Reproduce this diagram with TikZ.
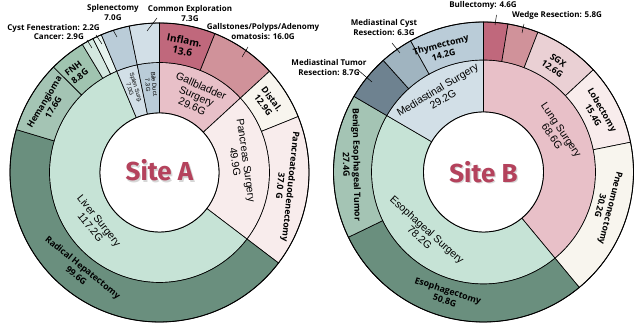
\documentclass[tikz,border=0pt]{standalone}
\usepackage{xcolor}
\usepackage{fontspec}
\setmainfont{Liberation Sans}
\newfontfamily\boldlabfont{Open Sans}
\newfontfamily\sitefont{Fira Sans}
\usepackage{tikz}
\usetikzlibrary{calc}
\definecolor{roseDark}{RGB}{192,104,124}
\definecolor{roseMid}{RGB}{208,146,154}
\definecolor{roseIn}{RGB}{232,192,200}
\definecolor{roseLight}{RGB}{234,208,212}
\definecolor{roseWhite}{RGB}{248,236,236}
\definecolor{creamWhite}{RGB}{248,245,238}
\definecolor{mintIn}{RGB}{198,227,214}
\definecolor{greenDark}{RGB}{106,143,126}
\definecolor{greenMid}{RGB}{164,196,180}
\definecolor{greenFnh}{RGB}{160,196,176}
\definecolor{greenPale}{RGB}{212,232,224}
\definecolor{greenPaler}{RGB}{230,243,239}
\definecolor{blueMid}{RGB}{186,204,216}
\definecolor{blueLight}{RGB}{210,223,231}
\definecolor{blueGrey}{RGB}{160,180,192}
\definecolor{blueDark}{RGB}{110,130,144}
\definecolor{sitecolor}{RGB}{180,66,92}
\newcommand{\ringseg}[6]{%
  \draw[segline, fill=#6] ([shift={(#4:#2pt)}]#1) -- ([shift={(#4:#3pt)}]#1)
    arc[start angle=#4, end angle=#5, radius=#3pt]
    -- ([shift={(#5:#2pt)}]#1) arc[start angle=#5, end angle=#4, radius=#2pt]
    -- cycle;}
\tikzset{
  segline/.style={draw=black, line width=0.65pt},
  rimline/.style={draw=black, line width=0.9pt},
  inlab/.style={font=\fontsize{10.5}{11}\selectfont, align=center, inner sep=0pt},
  smalllab/.style={font=\fontsize{6}{6.5}\selectfont, align=center, inner sep=0pt},
  outlab/.style={font=\boldlabfont\bfseries\fontsize{8.8}{10.5}\selectfont,
                 align=center, inner sep=0pt},
  calllab/.style={font=\boldlabfont\bfseries\fontsize{8}{10}\selectfont,
                  align=center, inner sep=0pt},
  leader/.style={draw=black, line width=0.5pt},
  sitelab/.style={font=\sitefont\bfseries\fontsize{26}{26}\selectfont,
                  text=sitecolor, inner sep=0pt},
  siteglow/.style={font=\sitefont\bfseries\fontsize{26}{26}\selectfont,
                   text=black!45, opacity=0.35, inner sep=0pt},
}

\begin{document}
\begin{tikzpicture}[x=1pt, y=1pt]

  \useasboundingbox (0,0) rectangle (641,326);
  \coordinate (cA) at (159.5,153.5);
  \coordinate (cB) at (483.5,154);

  % --- Site A: inner ring ---
  \ringseg{cA}{59.5}{110}{90}{42.62}{roseIn}
  \ringseg{cA}{59.5}{110}{42.62}{-37.26}{roseWhite}
  \ringseg{cA}{59.5}{110}{-37.26}{-247.11}{mintIn}
  \ringseg{cA}{59.5}{110}{-247.11}{-258.31}{blueLight}
  \ringseg{cA}{59.5}{110}{-258.31}{-270}{blueMid}

  % --- Site A: outer ring ---
  \ringseg{cA}{110}{149.5}{90}{68.23}{roseDark}
  \ringseg{cA}{110}{149.5}{68.23}{42.62}{roseMid}
  \ringseg{cA}{110}{149.5}{42.62}{21.97}{creamWhite}
  \ringseg{cA}{110}{149.5}{21.97}{-37.26}{roseWhite}
  \ringseg{cA}{110}{149.5}{-37.26}{-196.69}{greenDark}
  \ringseg{cA}{110}{149.5}{-196.69}{-224.86}{greenMid}
  \ringseg{cA}{110}{149.5}{-224.86}{-238.95}{greenFnh}
  \ringseg{cA}{110}{149.5}{-238.95}{-243.59}{greenPale}
  \ringseg{cA}{110}{149.5}{-243.59}{-247.11}{greenPaler}
  \ringseg{cA}{110}{149.5}{-247.11}{-258.31}{blueMid}
  \ringseg{cA}{110}{149.5}{-258.31}{-270}{blueLight}
  \draw[rimline, fill=white] (cA) circle[radius=59.5pt];
  \draw[rimline] (cA) circle[radius=149.5pt];

  % --- Site B: inner ring ---
  \ringseg{cB}{60}{112}{90}{-50.32}{roseIn}
  \ringseg{cB}{60}{112}{-50.32}{-210.27}{mintIn}
  \ringseg{cB}{60}{112}{-210.27}{-270}{blueLight}

  % --- Site B: outer ring ---
  \ringseg{cB}{112}{150}{90}{80.59}{roseDark}
  \ringseg{cB}{112}{150}{80.59}{68.73}{roseMid}
  \ringseg{cB}{112}{150}{68.73}{42.95}{roseLight}
  \ringseg{cB}{112}{150}{42.95}{11.45}{roseWhite}
  \ringseg{cB}{112}{150}{11.45}{-50.32}{creamWhite}
  \ringseg{cB}{112}{150}{-50.32}{-154.23}{greenDark}
  \ringseg{cB}{112}{150}{-154.23}{-210.27}{greenMid}
  \ringseg{cB}{112}{150}{-210.27}{-228.07}{blueDark}
  \ringseg{cB}{112}{150}{-228.07}{-240.95}{blueGrey}
  \ringseg{cB}{112}{150}{-240.95}{-270}{blueMid}
  \draw[rimline, fill=white] (cB) circle[radius=60pt];
  \draw[rimline] (cB) circle[radius=150pt];

  % --- Centre titles ---
  \node[siteglow] (glowA) at ($(cA)+(1.3,0.7)$) {Site A};
  \node[siteglow] (glowB) at ($(cB)+(1.3,-1.3)$) {Site B};
  \node[sitelab] (siteA) at ($(cA)+(0,2)$) {Site A};
  \node[sitelab] (siteB) at (cB) {Site B};

  % --- Site A: labels inside ---
  \node[inlab, rotate=-24] (gallL) at ([shift={(64:85pt)}]cA)
    {Gallbladder\\Surgery\\29.6G};
  \node[inlab, rotate=-82] (pancL) at ([shift={(8:82pt)}]cA)
    {Pancreas Surgery\\49.9G};
  \node[inlab, rotate=-51] (liverL) at ([shift={(218.6:82.5pt)}]cA)
    {Liver Surgery\\117.2G};
  \node[smalllab, rotate=-73] (splenL) at ([shift={(107.4:88pt)}]cA)
    {Splen Surg.\\7.0G};
  \node[smalllab, rotate=-84] (bileL) at ([shift={(95.5:88pt)}]cA)
    {Bile Duct.\\7.3G};
  \node[outlab, font=\boldlabfont\bfseries\fontsize{10}{11}\selectfont,
        rotate=-11] (inflamL) at ([shift={(79.3:129pt)}]cA) {Inflam.\\13.6};
  \node[outlab, rotate=-53] (distalL) at ([shift={(33:129pt)}]cA)
    {Distal.\\12.9G};
  \node[outlab, rotate=-96] (pdL) at ([shift={(-6.2:127pt)}]cA)
    {Pancreatoduodenectomy\\37.0 G};
  \node[outlab, rotate=-39] (radL) at ([shift={(-128.9:127pt)}]cA)
    {Radical Hepatectomy\\99.6G};
  \node[outlab, rotate=59] (hemL) at ([shift={(148.5:130pt)}]cA)
    {Hemangioma\\17.6G};
  \node[outlab, rotate=38] (fnhL) at ([shift={(129.6:130pt)}]cA)
    {FNH\\8.8G};

  % --- Site A: labels outside ---
  \node[calllab] (splenT) at (113,313) {Splenectomy\\7.0G};
  \node[calllab] (commonT) at (190,312.5) {Common Exploration\\7.3G};
  \node[calllab] (gallstT) at (263,294) {Gallstones/Polyps/Adenomy\\omatosis: 16.0G};
  \node[calllab, anchor=east] (cystT) at (100,298) {Cyst Fenestration: 2.2G};
  \node[calllab, anchor=east] (cancerT) at (84,289) {Cancer: 2.9G};

  \coordinate (cancerP) at (92,278);  \coordinate (cancerQ) at (87,286);
  \coordinate (cystP) at (102,282);   \coordinate (cystQ) at (96,291);
  \coordinate (splenP) at (117,289);  \coordinate (splenQ) at (113,296);
  \coordinate (commonP) at (147,295); \coordinate (commonQ) at (157,308);
  \coordinate (gallstP) at (242,269); \coordinate (gallstQ) at (248,279);
  \draw[leader] (cancerP) -- (cancerQ);
  \draw[leader] (cystP) -- (cystQ);
  \draw[leader] (splenP) -- (splenQ);
  \draw[leader] (commonP) -- (commonQ);
  \draw[leader] (gallstP) -- (gallstQ);

  % --- Site B: labels inside ---
  \node[inlab, rotate=-56] (lungL) at ([shift={(28:83pt)}]cB)
    {Lung Surgery\\68.6G};
  \node[inlab, rotate=-42] (esoL) at ([shift={(225.7:86pt)}]cB)
    {Esophageal Surgery\\78.2G};
  \node[inlab, rotate=31] (mediL) at ([shift={(119.1:89pt)}]cB)
    {Mediastinal Surgery\\29.2G};
  \node[outlab, rotate=-35] (sgxL) at ([shift={(56.2:129pt)}]cB)
    {SGX\\12.6G};
  \node[outlab, rotate=-60] (lobL) at ([shift={(27.5:129pt)}]cB)
    {Lobectomy\\15.4G};
  \node[outlab, rotate=-104] (pneuL) at ([shift={(-15.9:127pt)}]cB)
    {Pneumonectomy\\30.2G};
  \node[outlab, rotate=-18] (esectL) at ([shift={(-106.7:129pt)}]cB)
    {Esophagectomy\\50.8G};
  \node[outlab, rotate=-89] (benignL) at ([shift={(176.8:132pt)}]cB)
    {Benign Esophageal Tumor\\27.4G};
  \node[outlab, rotate=15] (thymL) at ([shift={(108.7:129pt)}]cB)
    {Thymectomy\\14.2G};

  % --- Site B: labels outside ---
  \node[calllab] (bullT) at (483,321) {Bullectomy: 4.6G};
  \node[calllab] (wedgeT) at (557,311) {Wedge Resection: 5.8G};
  \node[calllab] (mcystT) at (384,298) {Mediastinal Cyst\\Resection: 6.3G};
  \node[calllab] (mtumT) at (329,258) {Mediastinal Tumor\\Resection: 8.7G};

  \coordinate (bullP) at (495,301);   \coordinate (bullQ) at (496.5,311);
  \coordinate (wedgeP) at (522,293);  \coordinate (wedgeQ) at (524,302);
  \coordinate (mcystP) at (400,273);  \coordinate (mcystQ) at (392,283);
  \coordinate (mtumP) at (372,244);   \coordinate (mtumQ) at (358,256);
  \draw[leader] (bullP) -- (bullQ);
  \draw[leader] (wedgeP) -- (wedgeQ);
  \draw[leader] (mcystP) -- (mcystQ);
  \draw[leader] (mtumP) -- (mtumQ);

\end{tikzpicture}
\end{document}
